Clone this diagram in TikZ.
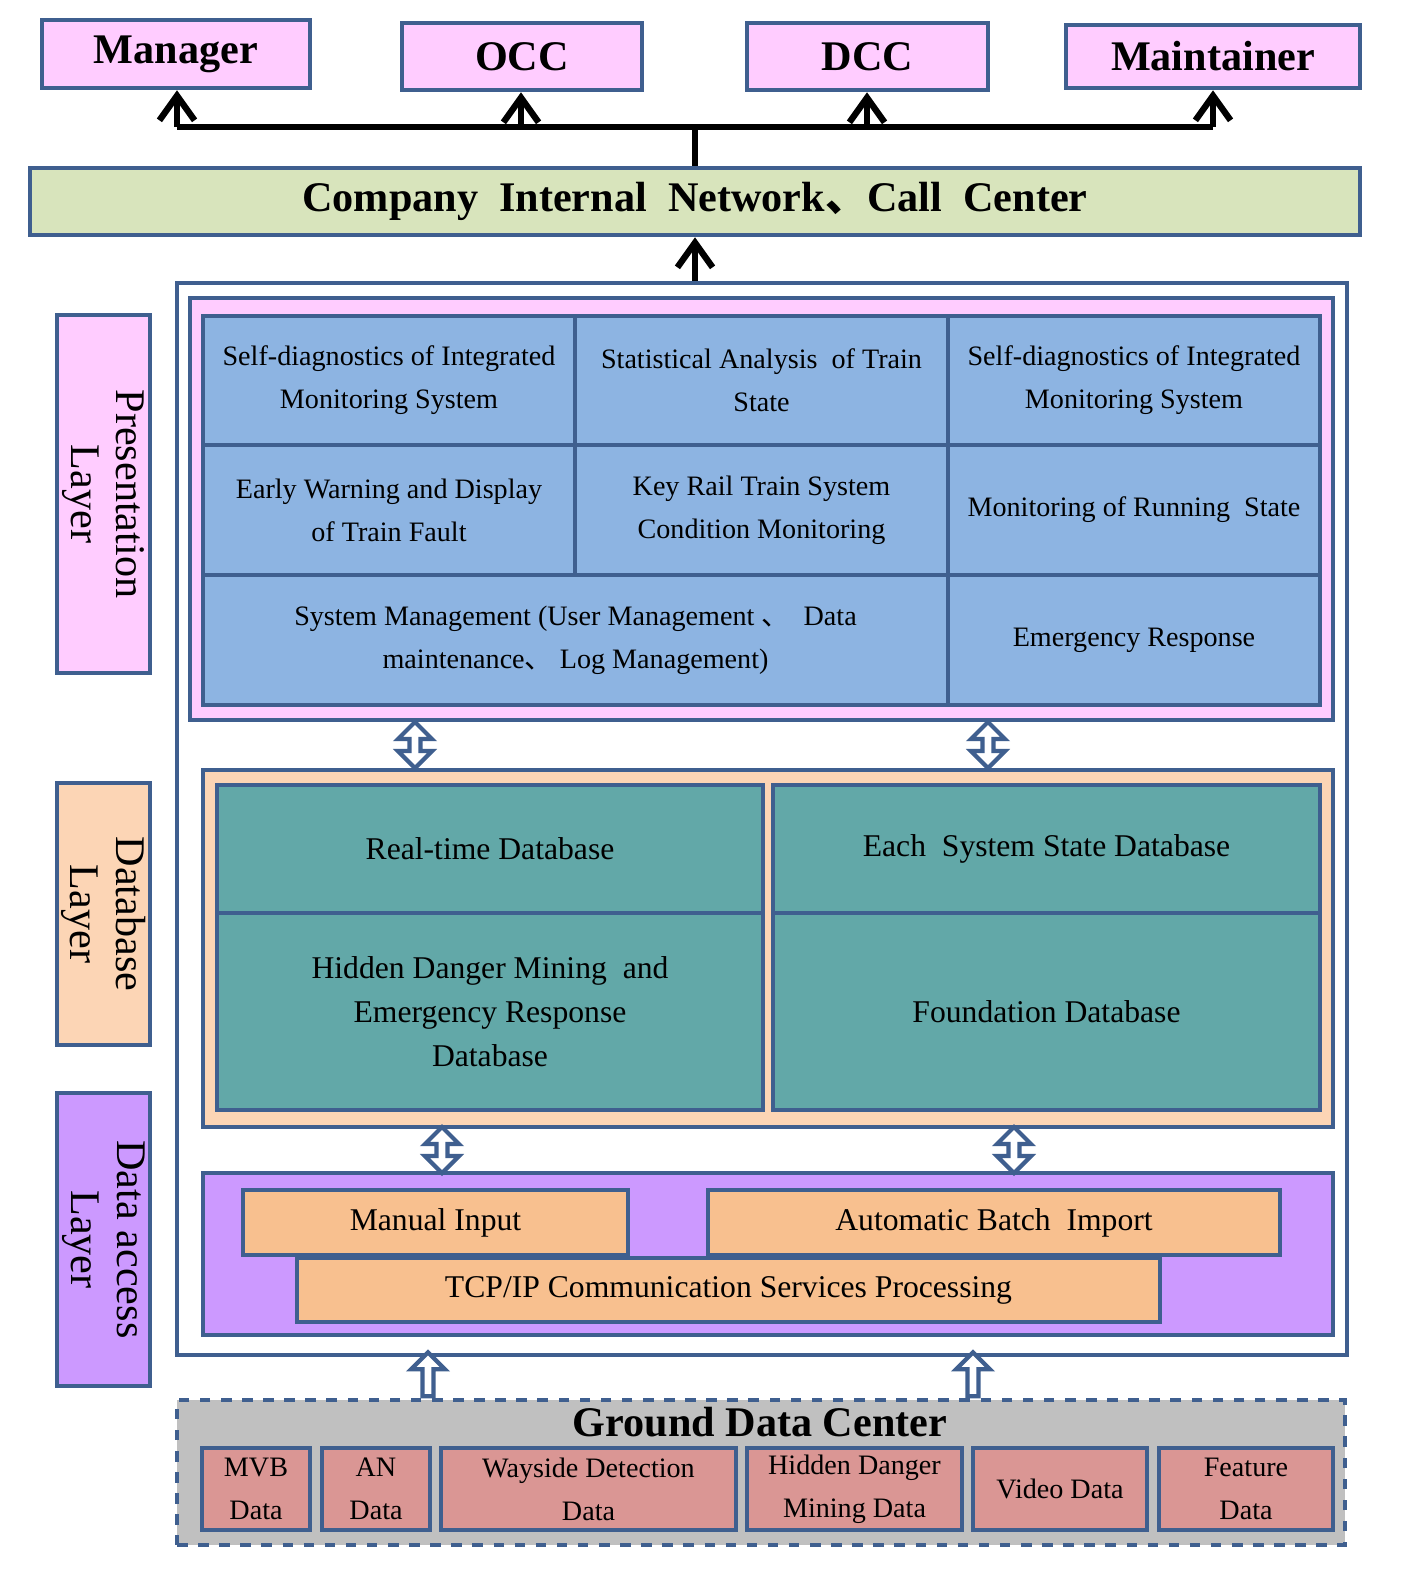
\documentclass[tikz,border=0pt]{standalone}
\usepackage{fontspec}
\setmainfont{Liberation Serif}
\newfontfamily\cjk{Noto Sans CJK SC}
\usetikzlibrary{fit,arrows.meta,shapes.arrows}
\definecolor{edgeblue}{HTML}{3F5F8F}
\definecolor{pinkfill}{HTML}{FFCCFF}
\definecolor{greenfill}{HTML}{D8E4BC}
\definecolor{cellblue}{HTML}{8DB4E2}
\definecolor{peach}{HTML}{FCD5B5}
\definecolor{teal}{HTML}{62A8A8}
\definecolor{violet}{HTML}{CC99FF}
\definecolor{orangecell}{HTML}{F8C08F}
\definecolor{rosecell}{HTML}{DA9694}
\definecolor{groundgray}{HTML}{C0C0C0}
\newcommand{\cjkdot}{{\cjk 、}}
\newcommand{\boxtext}[3]{\node[align=center, font=#2] at (#1.center) {#3};}
\tikzset{
  box/.style={draw=edgeblue, line width=1.3pt, inner sep=0pt},
  bus/.style={line width=1.8pt, -{Straight Barb[length=7pt,width=10pt]}},
  dblarrow/.style={double arrow, draw=edgeblue, fill=white, line width=1.2pt, rotate=90,
    minimum height=0.46cm, minimum width=0.34cm, double arrow head extend=0.09cm, inner sep=0.6pt},
  sglarrow/.style={single arrow, draw=edgeblue, fill=white, line width=1.2pt, rotate=90,
    minimum height=0.44cm, minimum width=0.34cm, single arrow head extend=0.09cm, inner sep=0.6pt},
}
\def\topf{\fontsize{12}{14}\selectfont\bfseries}
\def\cellf{\fontsize{8}{12.2}\selectfont}
\def\dbf{\fontsize{9}{12.5}\selectfont}
\def\sidef{\fontsize{12}{13}\selectfont}
\begin{document}
\begin{tikzpicture}[x=0.01cm, y=-0.01cm]
    \useasboundingbox (0,0) rectangle (1415,1584);
    % top users
    \node[box, fill=pinkfill, fit={(42,20) (310,88)}] (manager) {};
    \node[box, fill=pinkfill, fit={(402,23) (642,90)}] (occ) {};
    \node[box, fill=pinkfill, fit={(747,23) (988,90)}] (dcc) {};
    \node[box, fill=pinkfill, fit={(1066,25) (1360,88)}] (maint) {};
    \boxtext{manager}{\topf}{Manager}
    \boxtext{occ}{\topf}{OCC}
    \boxtext{dcc}{\topf}{DCC}
    \boxtext{maint}{\topf}{Maintainer}
    \node[box, fill=greenfill, fit={(30,168) (1360,235)}] (net) {};
    \boxtext{net}{\topf}{Company\ \ Internal\ \ Network\cjkdot Call\ \ Center}
    \coordinate (busl) at (177,127);
    \coordinate (busr) at (1213,127);
    \coordinate (busm) at (695,127);
    \draw[line width=1.8pt] (busl) -- (busr);
    \draw[line width=1.8pt] (busm) -- (net.north -| busm);
    \draw[bus] (busl) -- (manager.south -| busl);
    \draw[bus] (521,127) -- (occ.south -| 521,0);
    \draw[bus] (867,127) -- (dcc.south -| 867,0);
    \draw[bus] (busr) -- (maint.south -| busr);

    % outer frame
    \node[box, fill=white, fit={(177,283) (1347,1355)}] (frame) {};
    \draw[bus] (frame.north -| busm) -- (net.south -| busm);

    % presentation layer
    \node[box, fill=pinkfill, fit={(190,298) (1333,720)}] (pres) {};
    \foreach \n/\xa/\ya/\xb/\yb in {c11/203/316/575/445, c12/575/316/948/445, c13/948/316/1320/445,
        c21/203/445/575/575, c22/575/445/948/575, c23/948/445/1320/575,
        c31/203/575/948/705, c32/948/575/1320/705}
      \node[box, fill=cellblue, fit={(\xa,\ya) (\xb,\yb)}] (\n) {};
    \boxtext{c11}{\cellf}{Self-diagnostics of Integrated\\Monitoring System}
    \boxtext{c12}{\cellf}{Statistical Analysis\ \ of Train\\State}
    \boxtext{c13}{\cellf}{Self-diagnostics of Integrated\\Monitoring System}
    \boxtext{c21}{\cellf}{Early Warning and Display\\of Train Fault}
    \boxtext{c22}{\cellf}{Key Rail Train\ System\\Condition Monitoring}
    \boxtext{c23}{\cellf}{Monitoring of Running\ \ State}
    \boxtext{c31}{\cellf}{System Management (User Management\ \cjkdot\ \ Data\\maintenance\cjkdot\ Log Management)}
    \boxtext{c32}{\cellf}{Emergency Response}

    % database layer
    \node[box, fill=peach, fit={(203,770) (1333,1127)}] (dbl) {};
    \foreach \n/\xa/\ya/\xb/\yb in {rtdb/217/785/763/913, ssdb/773/785/1320/913,
        hddb/217/913/763/1110, fddb/773/913/1320/1110}
      \node[box, fill=teal, fit={(\xa,\ya) (\xb,\yb)}] (\n) {};
    \boxtext{rtdb}{\dbf}{Real-time Database}
    \boxtext{ssdb}{\dbf}{Each\ \ System State Database}
    \boxtext{hddb}{\dbf}{Hidden Danger Mining\ \ and\\Emergency Response\\Database}
    \boxtext{fddb}{\dbf}{Foundation Database}

    % data access layer
    \node[box, fill=violet, fit={(203,1173) (1333,1335)}] (dal) {};
    \node[box, fill=orangecell, fit={(243,1190) (628,1255)}] (manual) {};
    \node[box, fill=orangecell, fit={(708,1190) (1280,1255)}] (auto) {};
    \node[box, fill=orangecell, fit={(297,1258) (1160,1322)}] (tcp) {};
    \boxtext{manual}{\dbf}{Manual Input}
    \boxtext{auto}{\dbf}{Automatic Batch\ \ Import}
    \boxtext{tcp}{\dbf}{TCP/IP\ Communication Services\ Processing}

    \node[dblarrow] (pa1) at (415,745) {};
    \node[dblarrow] (pa2) at (988,745) {};
    \node[dblarrow] (da1) at (442,1150) {};
    \node[dblarrow] (da2) at (1014,1150) {};

    % ground data center
    \node[draw=edgeblue, line width=1.3pt, dashed, fill=groundgray, inner sep=0pt, fit={(177,1400) (1345,1545)}] (ground) {};
    \node[font=\topf] (gtitle) at (760,1422) {Ground Data Center};
    \foreach \n/\xa/\xb in {mvb/202/310, an/322/430, way/441/736, hdm/747/962, video/973/1147, feat/1159/1333}
      \node[box, fill=rosecell, fit={(\xa,1448) (\xb,1530)}] (\n) {};
    \boxtext{mvb}{\cellf}{MVB\\Data}
    \boxtext{an}{\cellf}{AN\\Data}
    \boxtext{way}{\cellf}{Wayside Detection\\Data}
    \boxtext{hdm}{\cellf}{Hidden Danger\\Mining Data}
    \boxtext{video}{\cellf}{Video Data}
    \boxtext{feat}{\cellf}{Feature\\Data}
    \node[sglarrow] (ga1) at (428,1377) {};
    \node[sglarrow] (ga2) at (973,1377) {};

    % side labels
    \node[box, fill=pinkfill, fit={(57,315) (150,673)}] (lpres) {};
    \node[rotate=-90, align=center, font=\sidef] at (lpres.center) {Presentation\\Layer};
    \node[box, fill=peach, fit={(57,783) (150,1045)}] (ldb) {};
    \node[rotate=-90, align=center, font=\sidef] at (ldb.center) {Database\\Layer};
    \node[box, fill=violet, fit={(57,1093) (150,1386)}] (lda) {};
    \node[rotate=-90, align=center, font=\sidef] at (lda.center) {Data access\\Layer};
\end{tikzpicture}
\end{document}
